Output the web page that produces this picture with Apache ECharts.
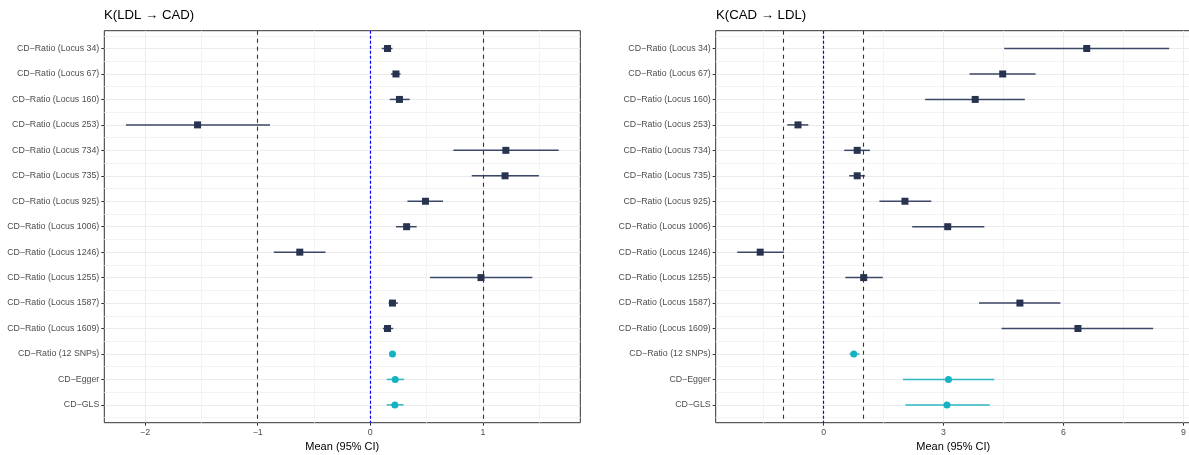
<!DOCTYPE html>
<html>
<head>
<meta charset="utf-8">
<title>forest plot</title>
<script src="https://cdn.jsdelivr.net/npm/echarts@6/dist/echarts.min.js"></script>
<style>
  html, body { margin: 0; padding: 0; background: #fff; }
  #chart { width: 1189px; height: 455px; }
</style>
</head>
<body>
<div id="chart"></div>
<script>
// row labels, top to bottom
const categories = [
  'CD−Ratio (Locus 34)', 'CD−Ratio (Locus 67)', 'CD−Ratio (Locus 160)',
  'CD−Ratio (Locus 253)', 'CD−Ratio (Locus 734)', 'CD−Ratio (Locus 735)',
  'CD−Ratio (Locus 925)', 'CD−Ratio (Locus 1006)', 'CD−Ratio (Locus 1246)',
  'CD−Ratio (Locus 1255)', 'CD−Ratio (Locus 1587)', 'CD−Ratio (Locus 1609)',
  'CD−Ratio (12 SNPs)', 'CD−Egger', 'CD−GLS'
]
// first 12 rows are single loci, last 3 are pooled estimates
const pooled = [0, 0, 0, 0, 0, 0, 0, 0, 0, 0, 0, 0, 1, 1, 1]

// K(LDL -> CAD)
const ldlMean = [0.153, 0.228, 0.259, -1.534, 1.204, 1.197, 0.490, 0.323, -0.626, 0.983, 0.197, 0.153, 0.197, 0.221, 0.218]
const ldlLow = [0.102, 0.184, 0.173, -2.170, 0.738, 0.901, 0.330, 0.228, -0.857, 0.531, 0.163, 0.112, 0.177, 0.146, 0.146]
const ldlHigh = [0.197, 0.269, 0.350, -0.891, 1.673, 1.497, 0.646, 0.412, -0.398, 1.439, 0.245, 0.204, 0.218, 0.299, 0.296]

// K(CAD -> LDL)
const cadMean = [6.583, 4.481, 3.793, -0.640, 0.841, 0.841, 2.035, 3.105, -1.586, 1.003, 4.911, 6.363, 0.755, 3.124, 3.086]
const cadLow = [4.519, 3.650, 2.541, -0.908, 0.516, 0.640, 1.395, 2.216, -2.159, 0.545, 3.888, 4.452, 0.650, 1.987, 2.045]
const cadHigh = [8.646, 5.302, 5.035, -0.382, 1.156, 1.032, 2.694, 4.022, -0.994, 1.481, 5.923, 8.245, 0.898, 4.271, 4.156]

const xTicksLeft = [-2, -1, 0, 1]
const xTicksRight = [0, 3, 6, 9]
const refLines = [-1, 0, 1]

const FONT = "'Liberation Sans', Arial, sans-serif"
const rows = categories.map((c, i) => i + 1)

// ggplot style 5% expansion of the data range
function expand(low, high) {
  const lo = Math.min(...low), hi = Math.max(...high)
  const pad = (hi - lo) * 0.05
  return [lo - pad, hi + pad]
}

function makeX(idx, low, high, ticks) {
  const ext = expand(low, high)
  return {
    type: 'value', gridIndex: idx, min: ext[0], max: ext[1], splitNumber: 4,
    name: 'Mean (95% CI)', nameLocation: 'middle', nameGap: 9,
    nameTextStyle: { color: '#000', fontSize: 11, fontFamily: FONT },
    axisLine: { show: false, onZero: false },
    axisTick: { show: true, length: 3, customValues: ticks, lineStyle: { color: '#333' } },
    axisLabel: {
      customValues: ticks, margin: 5, color: '#4D4D4D', fontSize: 8.8, fontFamily: FONT,
      formatter: v => String(v).replace('-', '−')
    },
    splitLine: { show: true, lineStyle: { color: '#EBEBEB', width: 1 } },
    minorTick: { show: false, splitNumber: 2 },
    minorSplitLine: { show: true, lineStyle: { color: '#F3F3F3', width: 1 } }
  }
}

function makeY(idx) {
  return {
    type: 'value', gridIndex: idx, inverse: true, min: 0.3, max: 15.7, splitNumber: 15,
    axisLine: { show: false, onZero: false },
    axisTick: { show: true, length: 3, customValues: rows, lineStyle: { color: '#333' } },
    axisLabel: {
      customValues: rows, margin: 5, color: '#4D4D4D', fontSize: 8.8, fontFamily: FONT,
      formatter: v => categories[v - 1] || ''
    },
    splitLine: { show: true, lineStyle: { color: '#EBEBEB', width: 1 } },
    minorTick: { show: false, splitNumber: 2 },
    minorSplitLine: { show: true, lineStyle: { color: '#F3F3F3', width: 1 } }
  }
}

function ciSeries(idx, low, high) {
  return {
    type: 'custom', xAxisIndex: idx, yAxisIndex: idx, silent: true,
    data: low.map((l, i) => ({
      value: [l, high[i], i + 1],
      itemStyle: { color: pooled[i] ? '#2EB6C3' : '#3B4766' }
    })),
    renderItem(params, api) {
      const a = api.coord([api.value(0), api.value(2)])
      const b = api.coord([api.value(1), api.value(2)])
      return {
        type: 'line',
        shape: { x1: a[0], y1: a[1], x2: b[0], y2: b[1] },
        style: { stroke: api.visual('color'), lineWidth: 1.5 }
      }
    },
    // dashed reference lines at -1, 0, 1
    markLine: {
      silent: true, symbol: 'none', label: { show: false }, animation: false,
      data: refLines.map(v => ({
        xAxis: v,
        lineStyle: v === 0
          ? { color: '#0000FF', type: [3, 2], width: 1.2, opacity: 1 }
          : { color: '#333', type: [4, 4], width: 1.1, opacity: 1 }
      }))
    },
    z: 3
  }
}

function pointSeries(idx, mean) {
  return {
    type: 'scatter', xAxisIndex: idx, yAxisIndex: idx, silent: true,
    data: mean.map((m, i) => ({
      value: [m, i + 1],
      symbol: pooled[i] ? 'circle' : 'rect',
      symbolSize: 7,
      itemStyle: { color: pooled[i] ? '#14B2C2' : '#283350', opacity: 1 }
    })),
    z: 4
  }
}

const gridBase = { top: 30.7, height: 392, show: true, borderColor: '#333', borderWidth: 1,
  backgroundColor: '#fff', outerBoundsMode: 'none' }

const chart = echarts.init(document.getElementById('chart'))
chart.setOption({
  animation: false,
  title: [
    { text: 'K(LDL → CAD)', left: 104, top: 9, padding: 0,
      textStyle: { color: '#000', fontSize: 13.2, fontWeight: 'normal', fontFamily: FONT } },
    { text: 'K(CAD → LDL)', left: 716, top: 9, padding: 0,
      textStyle: { color: '#000', fontSize: 13.2, fontWeight: 'normal', fontFamily: FONT } }
  ],
  grid: [
    Object.assign({ left: 104.3, width: 476 }, gridBase),
    Object.assign({ left: 715.7, width: 475.1 }, gridBase)
  ],
  xAxis: [
    makeX(0, ldlLow, ldlHigh, xTicksLeft),
    makeX(1, cadLow, cadHigh, xTicksRight)
  ],
  yAxis: [makeY(0), makeY(1)],
  series: [
    ciSeries(0, ldlLow, ldlHigh),
    pointSeries(0, ldlMean),
    ciSeries(1, cadLow, cadHigh),
    pointSeries(1, cadMean)
  ]
})
</script>
</body>
</html>
